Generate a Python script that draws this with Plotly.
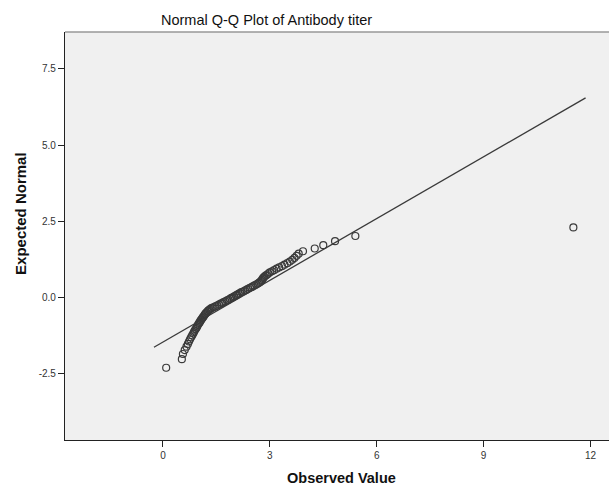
import numpy as np
import plotly.graph_objects as go

# Observed antibody titer values (sorted)
observed = [
    0.09, 0.53, 0.56, 0.61, 0.66, 0.70, 0.73, 0.76, 0.79, 0.82,
    0.85, 0.87, 0.89, 0.92, 0.94, 0.96, 0.98, 1.00, 1.02, 1.04,
    1.06, 1.08, 1.10, 1.12, 1.14, 1.16, 1.18, 1.20, 1.22, 1.25,
    1.27, 1.30, 1.33, 1.37, 1.42, 1.47, 1.52, 1.57, 1.62, 1.66,
    1.70, 1.75, 1.80, 1.84, 1.88, 1.92, 1.96, 2.00, 2.05, 2.08,
    2.12, 2.16, 2.20, 2.25, 2.30, 2.35, 2.39, 2.44, 2.48, 2.52,
    2.57, 2.62, 2.66, 2.70, 2.73, 2.76, 2.78, 2.80, 2.82, 2.84,
    2.88, 2.92, 2.96, 3.00, 3.06, 3.12, 3.19, 3.26, 3.34, 3.41,
    3.49, 3.56, 3.63, 3.69, 3.75, 3.81, 3.93, 4.26, 4.50, 4.83,
    5.40, 11.52,
]

# Expected normal scores for each observation
expected = [
    -2.30, -2.02, -1.85, -1.72, -1.61, -1.52, -1.44, -1.37, -1.30, -1.24,
    -1.18, -1.13, -1.08, -1.03, -0.99, -0.95, -0.90, -0.86, -0.83, -0.79,
    -0.75, -0.72, -0.68, -0.65, -0.62, -0.58, -0.55, -0.52, -0.49, -0.46,
    -0.43, -0.40, -0.37, -0.34, -0.32, -0.29, -0.26, -0.23, -0.20, -0.18,
    -0.15, -0.12, -0.09, -0.07, -0.04, -0.01, 0.01, 0.04, 0.07, 0.09,
    0.12, 0.15, 0.18, 0.20, 0.23, 0.26, 0.29, 0.32, 0.34, 0.37,
    0.40, 0.43, 0.46, 0.49, 0.52, 0.55, 0.58, 0.62, 0.65, 0.68,
    0.72, 0.75, 0.79, 0.83, 0.86, 0.90, 0.95, 0.99, 1.03, 1.08,
    1.13, 1.18, 1.24, 1.30, 1.37, 1.44, 1.52, 1.61, 1.72, 1.85,
    2.02, 2.30,
]

x_ticks = [0, 3, 6, 9, 12]
y_ticks = [-2.5, 0.0, 2.5, 5.0, 7.5]

# Reference line: standardised value of the observed distribution
obs = np.array(observed)
mu, sd = obs.mean(), obs.std(ddof=1)
span = obs.max() - obs.min()
line_x = np.array([obs.min() - 0.03 * span, obs.max() + 0.03 * span])
line_y = (line_x - mu) / sd

FONT = "Arial, 'Liberation Sans', sans-serif"

fig = go.Figure()
fig.add_trace(go.Scatter(
    x=line_x, y=line_y, mode="lines",
    line=dict(color="#3a3a3a", width=1.3),
    hoverinfo="skip", showlegend=False,
))
fig.add_trace(go.Scatter(
    x=observed, y=expected, mode="markers",
    marker=dict(symbol="circle-open", size=7, color="#3a3a3a",
                line=dict(width=1.2, color="#3a3a3a")),
    showlegend=False,
))

fig.update_layout(
    width=609, height=487,
    margin=dict(l=65, r=0, t=32, b=47),
    paper_bgcolor="white",
    plot_bgcolor="#F0F0F0",
    font=dict(family=FONT, size=10, color="#333333"),
    xaxis=dict(
        range=[-2.75, 12.52], tickvals=x_ticks, ticktext=[str(v) for v in x_ticks],
        showgrid=False, zeroline=False,
        showline=True, linecolor="#222222", linewidth=1.2,
        ticks="outside", ticklen=6, tickcolor="#222222", tickwidth=1,
        tickfont=dict(size=10, color="#333333"),
    ),
    yaxis=dict(
        range=[-4.67, 8.71], tickvals=y_ticks,
        ticktext=[f"{v:.1f}" for v in y_ticks],
        showgrid=False, zeroline=False,
        showline=True, linecolor="#222222", linewidth=1.2,
        ticks="outside", ticklen=6, tickcolor="#222222", tickwidth=1,
        tickfont=dict(size=10, color="#333333"),
    ),
    shapes=[dict(type="line", xref="paper", yref="paper",
                 x0=0, x1=1, y0=1, y1=1,
                 line=dict(color="#999999", width=1.5))],
    annotations=[
        dict(text="Normal Q-Q Plot of Antibody titer", xref="paper", yref="paper",
             x=0.371, y=1, yshift=12, xanchor="center", yanchor="middle",
             showarrow=False, font=dict(size=14.5, color="#111111", family=FONT)),
        dict(text="<b>Observed Value</b>", xref="paper", yref="paper",
             x=0.508, y=0, yshift=-38, xanchor="center", yanchor="middle",
             showarrow=False, font=dict(size=14.5, color="#111111", family=FONT)),
        dict(text="<b>Expected Normal</b>", xref="paper", yref="paper",
             x=0, xshift=-44, y=0.554, xanchor="center", yanchor="middle",
             textangle=-90, showarrow=False,
             font=dict(size=15, color="#111111", family=FONT)),
    ],
)

fig.write_html("out.html")
